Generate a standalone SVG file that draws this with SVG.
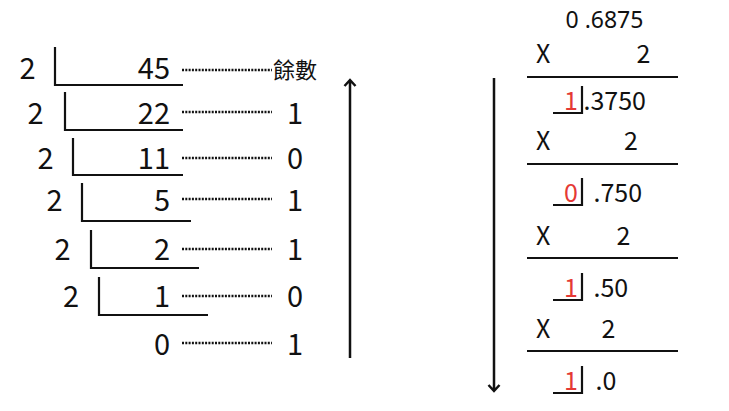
<svg xmlns="http://www.w3.org/2000/svg" width="729" height="411" viewBox="0 0 729 411">
<style>
text{font-family:"Noto Sans CJK TC","Noto Sans",sans-serif;fill:#111}
.l{font-size:29px}
.r{font-size:25px}
.top{font-family:"Noto Sans",sans-serif;font-size:23px}
.red{fill:#e53935}
.br{fill:none;stroke:#111;stroke-width:2.2}
.dot{stroke:#111;stroke-width:2.4;stroke-dasharray:2 1.3;fill:none}
.ln{stroke:#111;stroke-width:2;fill:none}
.ar{stroke:#111;stroke-width:2.5;fill:none}
</style>
<rect width="729" height="411" fill="#fff"/>
<g id="division">
<g id="row1"><text class="l" x="27.5" y="79" text-anchor="middle">2</text><path class="br" d="M55 47V85H183"/><text class="l" x="170" y="79" text-anchor="end">45</text><text x="273" y="78" font-size="22">餘數</text></g>
<g id="row2"><text class="l" x="35.5" y="124" text-anchor="middle">2</text><path class="br" d="M65 92V130H183"/><text class="l" x="170" y="124" text-anchor="end">22</text><text class="l" x="295" y="124" text-anchor="middle">1</text></g>
<g id="row3"><text class="l" x="45.5" y="169" text-anchor="middle">2</text><path class="br" d="M73 138V175H183"/><text class="l" x="170" y="169" text-anchor="end">11</text><text class="l" x="295" y="169" text-anchor="middle">0</text></g>
<g id="row4"><text class="l" x="54.5" y="211" text-anchor="middle">2</text><path class="br" d="M82 183V221H191"/><text class="l" x="170" y="211" text-anchor="end">5</text><text class="l" x="295" y="211" text-anchor="middle">1</text></g>
<g id="row5"><text class="l" x="62.5" y="260" text-anchor="middle">2</text><path class="br" d="M91 230V268H199"/><text class="l" x="170" y="260" text-anchor="end">2</text><text class="l" x="295" y="260" text-anchor="middle">1</text></g>
<g id="row6"><text class="l" x="71" y="307" text-anchor="middle">2</text><path class="br" d="M99 277V315H208"/><text class="l" x="170" y="307" text-anchor="end">1</text><text class="l" x="295" y="307" text-anchor="middle">0</text></g>
<g id="row7"><text class="l" x="170" y="355" text-anchor="end">0</text><text class="l" x="295" y="355" text-anchor="middle">1</text></g>
</g>
<g id="multiplication">
<text class="top" x="565.5" y="27.5">0 .6875</text>
<g id="step1"><text class="r" x="536" y="63">X</text><text class="r" x="643.5" y="63" text-anchor="middle">2</text><path class="ln" d="M527 77H678"/><text class="r red" x="571" y="110" text-anchor="middle">1</text><path class="br" d="M553 113H582V86"/><text class="r" x="583.5" y="110">.3750</text></g>
<g id="step2"><text class="r" x="536" y="150">X</text><text class="r" x="631" y="150" text-anchor="middle">2</text><path class="ln" d="M527 164H678"/><text class="r red" x="571" y="202" text-anchor="middle">0</text><path class="br" d="M553 205H582V178"/><text class="r" x="593.5" y="202">.750</text></g>
<g id="step3"><text class="r" x="536" y="245">X</text><text class="r" x="623.5" y="245" text-anchor="middle">2</text><path class="ln" d="M527 258H678"/><text class="r red" x="571" y="297" text-anchor="middle">1</text><path class="br" d="M553 300H582V273"/><text class="r" x="593.5" y="297">.50</text></g>
<g id="step4"><text class="r" x="536" y="338">X</text><text class="r" x="608.5" y="338" text-anchor="middle">2</text><path class="ln" d="M527 351H678"/><text class="r red" x="571" y="390" text-anchor="middle">1</text><path class="br" d="M553 393H582V366"/><text class="r" x="595.5" y="390">.0</text></g>
</g>
<g id="connectors">
<path class="dot" d="M182 70H272"/>
<path class="dot" d="M182 112H272"/>
<path class="dot" d="M182 158H272"/>
<path class="dot" d="M182 199H272"/>
<path class="dot" d="M182 249H272"/>
<path class="dot" d="M182 296H272"/>
<path class="dot" d="M182 343H272"/>
<path class="ar" d="M350 358V80M344.5 86L350 80L355.5 86"/>
<path class="ar" d="M494 78V391M488.5 385L494 391L499.5 385"/>
</g>
</svg>
